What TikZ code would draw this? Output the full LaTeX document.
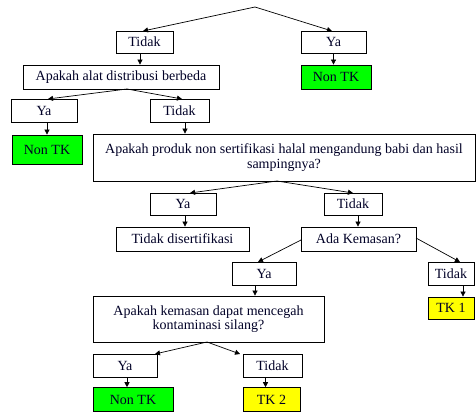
\documentclass[tikz,border=0pt]{standalone}
\usepackage{fontspec}
\setmainfont{Liberation Serif}
\usetikzlibrary{arrows.meta}
\definecolor{tkgreen}{RGB}{0,255,0}
\definecolor{tkyellow}{RGB}{255,255,0}
\begin{document}
\begin{tikzpicture}[x=1pt,y=1pt,
  box/.style={draw=black, line width=0.8pt, rectangle, inner sep=0pt, align=center,
    font=\fontsize{14}{14.5}\selectfont, text=black!85!blue},
  gbox/.style={box, fill=tkgreen},
  ybox/.style={box, fill=tkyellow},
  conn/.style={line width=0.7pt, -{Triangle[length=5pt,width=5pt]}},
  plain/.style={line width=0.7pt}]
\useasboundingbox (0,0) rectangle (476,-412);
% boxes
\node[box, minimum width=57pt, minimum height=22pt] (t1) at (144.5,-42) {Tidak};
\node[box, minimum width=65pt, minimum height=22pt] (y1) at (333.5,-42) {Ya};
\node[gbox, minimum width=70pt, minimum height=24pt] (n1) at (336,-77) {Non TK};
\node[box, minimum width=196pt, minimum height=24pt] (q1) at (121,-77) {Apakah alat distribusi berbeda};
\node[box, minimum width=66pt, minimum height=23pt] (y2) at (44,-110.5) {Ya};
\node[box, minimum width=59pt, minimum height=23pt] (t2) at (179.5,-110.5) {Tidak};
\node[gbox, minimum width=70pt, minimum height=29pt] (n2) at (47,-149.5) {Non TK};
\node[box, minimum width=382pt, minimum height=47pt] (q2) at (284,-157.5) {Apakah produk non sertifikasi halal mengandung babi dan hasil\\sampingnya?};
\node[box, minimum width=66pt, minimum height=22pt] (y3) at (183,-204) {Ya};
\node[box, minimum width=58pt, minimum height=22pt] (t3) at (353,-204) {Tidak};
\node[box, minimum width=133pt, minimum height=24pt] (tds) at (182.5,-239) {Tidak disertifikasi};
\node[box, minimum width=115pt, minimum height=24pt] (q3) at (358.5,-239) {Ada Kemasan?};
\node[box, minimum width=64pt, minimum height=23pt] (y4) at (264,-273.5) {Ya};
\node[box, minimum width=46pt, minimum height=23pt] (t4) at (451,-273.5) {Tidak};
\node[box, minimum width=231pt, minimum height=46pt] (q4) at (208.5,-319) {Apakah kemasan dapat mencegah\\kontaminasi silang?};
\node[ybox, minimum width=46pt, minimum height=22pt] (tk1) at (451,-308) {TK 1};
\node[box, minimum width=64pt, minimum height=23pt] (y5) at (125,-365.5) {Ya};
\node[box, minimum width=59pt, minimum height=23pt] (t5) at (272.5,-365.5) {Tidak};
\node[gbox, minimum width=80pt, minimum height=24pt] (n3) at (133,-399.6) {Non TK};
\node[ybox, minimum width=57pt, minimum height=24pt] (tk2) at (271.5,-399.6) {TK 2};
% apex coordinates
\coordinate (a0) at (255,-7);
\coordinate (a1) at (127,-89);
\coordinate (a2) at (277,-181);
\coordinate (a4) at (207,-342);
\coordinate (l3) at (301,-240);
\coordinate (r3) at (416,-238);
% connectors
\draw[conn] (a0) -- (143,-31);
\draw[conn] (a0) -- (332,-31);
\draw[conn] ([xshift=-4.5pt]t1.south) -- ([xshift=-4.5pt]t1.south |- q1.north);
\draw[conn] (y1.south) -- (y1.south |- n1.north);
\draw[conn] (a1) -- (48,-99);
\draw[conn] (a1) -- (182,-99);
\draw[conn] ([xshift=3pt]y2.south) -- ([xshift=3pt]y2.south |- n2.north);
\draw[conn] ([xshift=5.5pt]t2.south) -- ([xshift=5.5pt]t2.south |- q2.north);
\draw[conn] (a2) -- (190,-193);
\draw[conn] (a2) -- (353,-193);
\draw[conn] ([xshift=2pt]y3.south) -- ([xshift=2pt]y3.south |- tds.north);
\draw[conn] ([xshift=5pt]t3.south) -- ([xshift=5pt]t3.south |- q3.north);
\draw[conn] (l3) -- (258,-262);
\draw[conn] (r3) -- (460,-262);
\draw[conn] ([xshift=-9pt]y4.south) -- ([xshift=-9pt]y4.south |- q4.north);
\draw[conn] ([xshift=12pt]t4.south) -- ([xshift=12pt]t4.south |- tk1.north);
\draw[conn] (a4) -- (155,-354);
\draw[conn] (a4) -- (240,-354);
\draw[conn] ([xshift=2pt]y5.south) -- ([xshift=2pt]y5.south |- n3.north);
\draw[conn] ([xshift=-7pt]t5.south) -- ([xshift=-7pt]t5.south |- tk2.north);
\end{tikzpicture}
\end{document}
